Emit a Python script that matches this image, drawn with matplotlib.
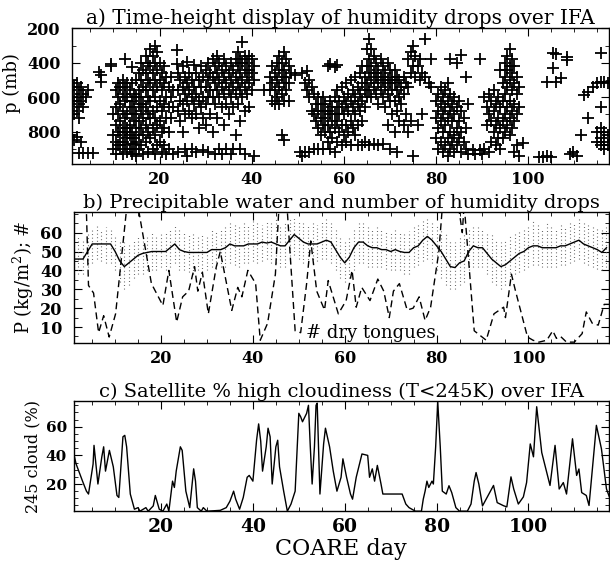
import matplotlib
matplotlib.use("Agg")
import matplotlib.pyplot as plt
from matplotlib.ticker import MultipleLocator

# a) humidity drops: (COARE day, pressures in mb)
drops = [
    (1.0, [500, 580, 660, 820]), (1.5, [540, 620, 700, 850]),
    (2.0, [520, 600, 680, 830]), (2.5, [560, 640, 720, 925]),
    (3.0, [540, 620, 860]), (3.5, [580, 660, 925]), (4.0, [600]),
    (4.5, [560, 925]), (5.5, [925]), (6.8, [455]), (7.3, [470, 510]),
    (9.5, [405, 420]),
    (10.0, [700, 820, 900]), (10.5, [560, 660, 760, 860, 930]),
    (11.0, [520, 600, 700, 800, 880]), (11.5, [540, 640, 740, 820, 900]),
    (12.0, [500, 580, 680, 780, 860, 930]), (12.5, [376, 540, 620, 720, 800, 880]),
    (13.0, [520, 600, 700, 780, 840, 920]), (13.5, [560, 660, 760, 820, 900]),
    (14.0, [424, 520, 620, 700, 800, 870, 930]), (14.5, [580, 660, 740, 840, 900]),
    (15.0, [500, 600, 700, 780, 860, 940]), (15.5, [460, 560, 640, 740, 820, 900]),
    (16.0, [400, 500, 600, 680, 780, 880]), (16.5, [440, 540, 640, 720, 820, 930]),
    (17.0, [360, 460, 560, 660, 760, 860]), (17.5, [400, 500, 600, 700, 800, 920]),
    (18.0, [320, 420, 520, 620, 720, 840]), (18.5, [360, 460, 560, 680, 780, 900]),
    (19.0, [300, 400, 500, 600, 720, 820, 930]), (19.5, [340, 440, 540, 660, 760, 880]),
    (20.0, [400, 500, 620, 740, 860]), (20.5, [460, 560, 680, 800, 920]),
    (21.0, [420, 520, 640, 780, 880]), (21.5, [480, 600, 720, 930]),
    (22.0, [540, 660, 800, 900]), (22.5, [480, 600, 720]),
    (23.0, [560, 660, 930]), (23.8, [327, 405]),
    (24.0, [460, 560, 680, 920]), (24.5, [500, 620, 740]),
    (25.0, [420, 540, 640, 800]), (25.5, [480, 580, 700, 900]),
    (26.0, [395, 520, 620, 940]), (26.5, [460, 560, 680]),
    (27.0, [500, 600, 720, 900]), (27.5, [415, 540, 640]),
    (28.0, [460, 580, 700, 920]), (28.5, [500, 620, 780]),
    (29.0, [420, 540, 660]), (29.5, [480, 600, 720, 910]),
    (30.0, [440, 540, 640, 760]), (30.5, [400, 500, 600, 920]),
    (31.0, [460, 560, 700]), (31.5, [380, 480, 600, 800]),
    (32.0, [420, 520, 640, 930]), (32.5, [360, 460, 560, 720]),
    (33.0, [400, 500, 600, 900]), (33.5, [440, 540, 660, 930]),
    (34.0, [380, 480, 580, 760]), (34.5, [420, 520, 640, 900]),
    (35.0, [460, 560, 700]), (35.5, [400, 500, 600, 930]),
    (36.0, [440, 540, 660, 900]), (36.5, [380, 480, 580, 820]),
    (37.0, [340, 420, 520, 640]), (37.5, [380, 460, 560, 740, 900]),
    (38.0, [279, 400, 500, 600]), (38.5, [360, 440, 540, 680, 930]),
    (39.0, [400, 480, 580]), (39.5, [360, 440, 520, 660]),
    (40.0, [380, 460, 560]), (40.5, [420, 500, 940]),
    (42.6, [560]),
    (44.0, [480, 560]), (44.5, [420, 520, 620]), (45.0, [460, 560, 640]),
    (45.5, [400, 500, 600]), (46.0, [360, 440, 540, 640]),
    (46.5, [400, 480, 580, 820]), (47.0, [340, 440, 520, 620, 850]),
    (47.5, [380, 480, 560]), (48.0, [420, 520, 620]), (48.5, [460]),
    (49.5, [470]), (50.5, [920]), (51.0, [460, 940]), (51.5, [520, 920]),
    (52.0, [450, 560]), (52.5, [500, 600, 920]), (53.0, [540, 680]),
    (53.5, [580, 700, 900]), (54.0, [640, 740]), (54.5, [600, 680, 780, 900]),
    (55.0, [640, 720, 820]), (55.5, [600, 680, 760, 900]),
    (56.0, [640, 720, 800]), (56.5, [420, 680, 760, 860]),
    (57.0, [410, 620, 700, 800, 900]), (57.5, [660, 740, 840]),
    (58.0, [425, 600, 700, 780, 920]), (58.5, [415, 560, 660, 740, 860]),
    (59.0, [620, 700, 800]), (59.5, [540, 660, 760, 880]),
    (60.0, [600, 700, 820]), (60.5, [520, 640, 760, 860]),
    (61.0, [580, 680, 800]), (61.5, [500, 620, 740, 880]),
    (62.0, [560, 660, 780]), (62.5, [480, 600, 700, 820]),
    (63.0, [540, 640, 760, 880]), (63.5, [460, 580, 680]),
    (64.0, [420, 520, 620, 740, 880]), (64.5, [480, 560, 660, 860]),
    (65.0, [320, 420, 520, 600]), (65.5, [260, 380, 460, 560, 880]),
    (66.0, [320, 420, 500, 600]), (66.5, [360, 460, 540, 870]),
    (67.0, [400, 480, 580]), (67.5, [440, 520, 640, 880]),
    (68.0, [380, 480, 560]), (68.5, [420, 500, 600, 870]),
    (69.0, [460, 540, 660]), (69.5, [400, 500, 580, 760]),
    (70.0, [440, 520, 620, 900]), (70.5, [480, 560, 700]),
    (71.0, [440, 520, 620, 800]), (71.5, [480, 560, 680, 920]),
    (72.0, [500, 600, 740]), (72.5, [540, 640]),
    (73.0, [480, 580, 760]), (73.5, [520, 700]),
    (74.0, [380, 540, 800]), (74.5, [340, 460, 740]),
    (75.0, [300, 420, 940]), (75.5, [360, 480]), (76.0, [420, 760]),
    (76.5, [380, 500]), (77.0, [460, 700]), (77.6, [262, 480]),
    (78.5, [520]), (79.0, [380, 540]),
    (80.0, [620, 720, 840]), (80.5, [580, 680, 780, 900]),
    (81.0, [540, 640, 740, 860]), (81.5, [600, 700, 800, 920]),
    (82.0, [560, 660, 760, 880]), (82.5, [520, 620, 720, 840, 940]),
    (83.0, [380, 580, 680, 800, 900]), (83.5, [640, 740, 860]),
    (84.0, [600, 700, 820, 920]), (84.5, [400, 660, 780, 880]),
    (85.0, [620, 740, 840]), (85.5, [355, 680, 800, 920]),
    (86.0, [720, 860]), (86.5, [480, 780, 900]), (87.0, [640, 930]),
    (88.0, [905]), (88.5, [930]), (89.5, [380, 910]), (90.0, [930]),
    (90.5, [600, 900]), (91.0, [660, 760]), (91.5, [580, 700, 920]),
    (92.0, [620, 740, 860]), (92.5, [560, 680, 800]),
    (93.0, [640, 760, 880]), (93.5, [600, 720, 840]),
    (94.0, [440, 660, 780, 900]), (94.5, [520, 620, 740, 840]),
    (95.0, [400, 480, 580, 700, 800]), (95.5, [360, 440, 540, 660, 760]),
    (96.0, [320, 420, 500, 620, 720, 820]), (96.5, [380, 460, 560, 680, 780]),
    (97.0, [420, 520, 640, 740, 920]), (97.5, [480, 580, 700, 880]),
    (98.0, [540, 660, 940]), (98.9, [865]),
    (102.4, [950]), (103.2, [950]), (104.0, [510, 940]), (104.9, [950]),
    (105.5, [345, 433]), (106.0, [350, 510]), (107.2, [490]),
    (108.5, [366, 385]), (109.0, [930]), (109.8, [920]), (110.5, [940]),
    (111.4, [820]), (112.2, [590]), (113.0, [570, 720]), (114.0, [540]),
    (115.0, [520, 800, 860]), (115.8, [345, 510, 660, 780, 840, 880]),
    (116.5, [510, 800, 860, 900]), (117.3, [520, 820, 880]),
]

# b) precipitable water (kg/m2), one value per day, days 1..117
pw = [46, 46, 46, 50, 54, 54, 54, 54, 54, 50,
      45, 42, 44, 46, 48, 49, 49.5, 50, 50, 50,
      50, 52, 54, 51, 50, 49.5, 49.5, 49.5, 49.5, 49.5,
      51, 51, 51, 52, 54, 53, 53, 53, 54, 54,
      54, 55, 54.5, 55, 54, 53, 53, 56, 59, 57,
      55, 54, 54, 54, 55, 56, 55, 51, 47, 44,
      47, 52, 55, 55, 53, 52, 52, 51, 51, 50,
      51, 50, 49.5, 49.5, 52, 53, 56, 58, 56, 53,
      50, 46, 42, 41.5, 44, 45, 50, 53, 52, 52,
      49, 46, 44, 42, 43, 45, 47, 49, 50, 52,
      53, 53, 52, 52, 52, 52, 53, 53, 54, 55,
      56, 54, 53, 52, 51, 49.5, 52]
# spread of the individual soundings (dotted streaks)
pw_hi = [70, 58, 56, 60, 62, 64, 62, 63, 62, 58,
         56, 55, 54, 56, 58, 57, 58, 60, 59, 60,
         61, 62, 64, 62, 61, 60, 60, 58, 60, 59,
         62, 61, 62, 63, 66, 64, 63, 65, 64, 66,
         65, 64, 66, 65, 68, 64, 66, 67, 69, 66,
         66, 64, 65, 64, 66, 67, 65, 62, 58, 56,
         58, 62, 66, 65, 63, 62, 63, 62, 61, 60,
         62, 61, 60, 61, 63, 64, 66, 68, 66, 64,
         62, 60, 56, 55, 58, 60, 62, 64, 63, 62,
         60, 60, 56, 55, 56, 58, 60, 61, 62, 64,
         66, 64, 62, 66, 63, 62, 64, 63, 66, 65,
         67, 65, 64, 63, 62, 62, 64]
pw_lo = [36, 38, 38, 42, 44, 46, 45, 44, 44, 40,
         34, 30, 32, 36, 38, 38, 40, 40, 40, 42,
         40, 42, 44, 40, 40, 39, 38, 40, 39, 40,
         42, 41, 42, 42, 44, 43, 42, 44, 44, 45,
         44, 45, 46, 44, 44, 42, 42, 44, 48, 46,
         44, 44, 44, 45, 46, 46, 44, 40, 36, 34,
         36, 40, 44, 44, 42, 42, 42, 42, 41, 40,
         40, 40, 38, 38, 42, 43, 45, 46, 44, 40,
         36, 32, 30, 30, 32, 34, 40, 42, 42, 42,
         38, 34, 32, 30, 32, 35, 38, 39, 40, 42,
         43, 43, 42, 42, 42, 42, 43, 43, 44, 45,
         46, 44, 43, 42, 41, 40, 42]

# b) number of dry tongues
dt_day = [1, 3.7, 4.2, 5.3, 6.4, 7.5, 8.7, 10.1, 12.6, 14.9, 17.9, 20.4, 21.7,
          23.4, 24.7, 26, 27.3, 28, 29, 30.3, 32, 32.9, 35.4, 36.7, 37.6, 38.9,
          40.6, 41.6, 43.2, 44.9, 45.7, 47.4, 49.2, 50.4, 51.7, 52.6, 53.9, 55.6,
          56.4, 58.6, 60.3, 61.6, 62.5, 63.7, 65.5, 67.2, 68.5, 69.7, 70.6, 71.9,
          73.6, 74.9, 76.2, 77.5, 78.7, 80.5, 81.3, 84.7, 85.6, 86, 88.2, 90.8,
          92.5, 94.6, 95, 96.3, 97.2, 99.8, 101, 102.3, 104, 105.3, 106.1, 107,
          108.3, 110, 111.7, 112.6, 113.9, 115.2, 116.5, 117.8]
dry = [75, 75, 32, 28, 7, 16, 4.7, 17, 75, 75, 33, 21.4, 40,
       12.6, 26, 29, 42, 29, 39, 17, 41.6, 50, 18.8, 31, 26, 40,
       33, 3, 12, 38, 75, 75, 8, 7, 33, 55.6, 29, 19,
       34.6, 17, 24, 40, 20.5, 31, 24, 35.4, 29, 15, 29, 33,
       19, 20, 26, 13.5, 20.5, 50, 75, 75, 60, 75, 8, 3,
       17, 20.5, 15, 38, 29, 4.7, 3, 2, 3, 8, 4, 5,
       2, 2, 6.5, 18, 12, 11, 22, 22]

# c) satellite high cloud (%)
cl_day = [1, 1.5, 2.9, 3.75, 4.2, 5.2, 5.4, 6.25, 7.1, 7.5, 7.9, 8.75, 9.6, 10.4,
          10.8, 11.7, 12.1, 12.5, 13.3, 14.2, 15, 15.4, 16.7, 17.2, 18.3, 18.75,
          19.6, 20.4, 21.25, 21.7, 22.5, 22.9, 23.3, 24.2, 24.6, 25.4, 26.25, 27.1,
          27.5, 27.9, 28.75, 29.2, 30, 32.9, 34.2, 35, 35.8, 36.25, 37.1, 37.9,
          38.75, 39.2, 40, 40.8, 41.25, 41.7, 42.1, 42.9, 43.3, 43.75, 44.2, 45,
          45.4, 45.8, 46.7, 47.5, 48.3, 49.2, 50, 50.4, 50.8, 51.7, 52.1, 52.5,
          52.9, 53.4, 53.75, 54, 54.6, 55.4, 55.8, 56.7, 57.5, 58.3, 59.2, 59.6,
          60.4, 61.25, 61.7, 62.5, 63.3, 63.75, 65, 65.4, 66, 66.5, 67.1, 67.9,
          68.3, 72.5, 73.3, 74, 75.4, 76.7, 77.1, 77.5, 77.9, 78.3, 79, 79.3, 79.8,
          80.25, 80.8, 81.25, 82.1, 82.7, 83.3, 84.2, 85, 86.7, 87.5, 88.2, 88.6,
          89.2, 90, 91, 92.4, 93.2, 94.6, 95.3, 96.2, 96.8, 97.8, 98.9, 99.6,
          100.4, 101.1, 101.8, 102.9, 104, 104.7, 105.8, 106.7, 107.6, 108.3,
          109.6, 110.5, 111, 111.6, 112.6, 113.2, 114.8, 115.9, 117, 118.1]
cloud = [41, 34, 22, 15, 13, 34, 47, 20, 39, 46, 29, 43.5, 32, 12,
         10.6, 53, 54, 46, 13, 2.4, 3.5, 1, 3.5, 1, 4.7, 12,
         2.4, 1, 6, 1, 22, 17.6, 29, 46, 43.5, 15, 3.5, 30.6,
         22, 3.5, 1, 3.5, 1, 1.6, 3.5, 8, 15, 9.4, 2.4, 10.6,
         24.7, 26, 22, 50.6, 62, 50, 29, 46, 59, 53, 20, 46,
         50.6, 32, 15, 1, 6, 15, 69.4, 67, 63.5, 69.4, 75, 46,
         20, 46, 75, 76.5, 13, 48, 59, 46, 29, 15, 24.7, 37.6,
         24.7, 13, 9.4, 24.7, 35, 41, 40, 24.7, 30.6, 22, 33, 20,
         13, 13, 6, 3.5, 1, 1, 9.4, 15, 22, 17.6, 22, 20, 46,
         77.6, 46, 15, 13, 18.8, 14, 3.5, 1, 1, 6, 22, 28,
         20, 4.7, 10.6, 19, 7, 4.8, 4, 25, 16.5, 6, 11, 21,
         48, 39, 74, 42, 28, 19, 47, 16.5, 21, 13,
         51.6, 26, 30.5, 14, 12, 5, 61, 44.6, 16.5, 7]

plt.rcParams['font.family'] = ['DejaVu Serif']
plt.rcParams['mathtext.fontset'] = 'dejavuserif'

fig = plt.figure(figsize=(6.1, 5.68), dpi=100)
ax1 = fig.add_axes([0.118, 0.711, 0.880, 0.239])
ax2 = fig.add_axes([0.121, 0.396, 0.877, 0.231])
ax3 = fig.add_axes([0.121, 0.100, 0.877, 0.194])

xs = []
ys = []
for d, plist in drops:
    for p in plist:
        xs.append(d)
        ys.append(p)
ax1.plot(xs, ys, '+', color='black', markersize=8, markeredgewidth=1.3)
ax1.set_ylim(990, 200)
ax1.set_yticks([200, 400, 600, 800])
ax1.yaxis.set_minor_locator(MultipleLocator(100))
ax1.set_ylabel('p (mb)', fontsize=13)
ax1.yaxis.set_label_coords(-0.095, 0.6)
ax1.set_title('a) Time-height display of humidity drops over IFA', fontsize=14.5, pad=2)

days = list(range(1, len(pw) + 1))
ax2.vlines(days, pw_lo, pw_hi, colors='0.35', linestyles=(0, (0.8, 2.4)), linewidth=0.8)
ax2.plot(days, pw, '-', color='black', linewidth=1.0)
ax2.plot(dt_day, dry, '--', color='black', linewidth=1.0, dashes=(5, 3))
ax2.text(51.5, 4.0, '# dry tongues', fontsize=13)
ax2.set_ylim(1.5, 71)
ax2.set_yticks([10, 20, 30, 40, 50, 60])
ax2.yaxis.set_minor_locator(MultipleLocator(5))
ax2.set_ylabel('P (kg/m$^2$); #', fontsize=13, labelpad=3)
ax2.set_title('b) Precipitable water and number of humidity drops', fontsize=14, pad=2)

ax3.plot(cl_day, cloud, '-', color='black', linewidth=1.0)
ax3.set_ylim(1, 78)
ax3.set_yticks([20, 40, 60])
ax3.yaxis.set_minor_locator(MultipleLocator(5))
ax3.set_ylabel('245 cloud (%)', fontsize=11.5, labelpad=3)
ax3.set_title('c) Satellite % high cloudiness (T<245K) over IFA', fontsize=14, pad=2)
ax3.set_xlabel('COARE day', fontsize=16, labelpad=1)

for ax in (ax1, ax2, ax3):
    ax.set_xlim(1, 117.5)
    ax.set_xticks([20, 40, 60, 80, 100])
    ax.xaxis.set_minor_locator(MultipleLocator(5))
    ax.tick_params(which='both', direction='in', top=True, right=True)
    ax.tick_params(which='major', length=6, labelsize=11.5, pad=5)
    ax.tick_params(which='minor', length=3)
    for lab in ax.get_xticklabels() + ax.get_yticklabels():
        lab.set_fontweight('bold')
    for s in ax.spines.values():
        s.set_linewidth(1.0)
ax1.tick_params(axis='y', which='major', pad=8)
ax2.tick_params(axis='y', which='major', pad=8)
ax3.tick_params(axis='x', which='major', labelsize=13.5)
ax3.tick_params(axis='y', which='major', labelsize=11)

fig.savefig('out.png', dpi=100)
